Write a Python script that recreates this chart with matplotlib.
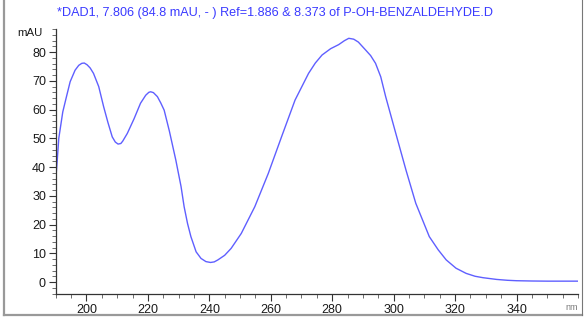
import numpy as np
import matplotlib
matplotlib.use("Agg")
import matplotlib.pyplot as plt
from matplotlib.ticker import MultipleLocator
from matplotlib.lines import Line2D

plt.rcParams["font.family"] = ["Liberation Sans", "DejaVu Sans"]

# wavelength (nm) and absorbance (mAU)
wl = [190, 190.5, 191, 192.3, 193.5, 194.7, 196.3, 197.5, 198.5, 199.3, 200.2,
      201.2, 202.3, 204, 205.6, 207, 208.4, 209.4, 210.3, 211.2, 211.8, 213.3,
      215.5, 217.6, 219.3, 220.3, 220.9, 221.8, 223.1, 224.2, 225.3, 227,
      229.1, 230.8, 231.8, 232.9, 234, 235.7, 237.3, 238.9, 240.4, 241.6,
      242.8, 245, 247.1, 250.4, 254.8, 259.2, 263.5, 267.9, 272.3, 274.5,
      276.7, 279.5, 282.1, 284, 285.4, 287, 288.5, 290.9, 292.5, 294.1,
      295.8, 297.4, 300.7, 304, 307.2, 311.6, 314.5, 317.1, 320.3, 323.6,
      326.5, 329.1, 333.5, 337, 340, 345, 350, 360]
mau = [35.5, 42.4, 50, 59.2, 64.5, 69.7, 73.7, 75.4, 76.1, 76.2, 75.6,
       74.5, 72.6, 68, 61, 55.5, 50.5, 48.7, 48, 48.2, 49, 51.7,
       56.8, 62.2, 65, 66, 66.2, 65.9, 64.5, 62.3, 59.8, 52.5,
       42.4, 33.2, 26.2, 20.4, 15.8, 10.5, 8.2, 7.1, 6.8, 7.0,
       7.7, 9.3, 11.7, 16.9, 26.2, 37.8, 50.5, 63.3, 72.6, 76.2,
       79, 81.2, 82.6, 84, 84.8, 84.5, 83.5, 80.7, 78.8, 76.1,
       71.4, 64.5, 51.7, 39, 27.4, 15.8, 11.2, 7.7, 4.8, 3.0,
       2.0, 1.5, 0.9, 0.6, 0.45, 0.35, 0.3, 0.3]

fig = plt.figure(figsize=(5.84, 3.20), dpi=100)
ax = fig.add_axes([0.0954, 0.081, 0.8943, 0.828])
ax.plot(wl, mau, color="#5f5fff", lw=1.0)

ax.set_xlim(190, 360)
ax.set_ylim(-4.2, 88)
ax.xaxis.set_minor_locator(MultipleLocator(5))
ax.yaxis.set_minor_locator(MultipleLocator(2))
ax.set_xticks(np.arange(200, 341, 20))
ax.set_yticks(np.arange(0, 81, 10))
for s in ["top", "right"]:
    ax.spines[s].set_visible(False)
for s in ["left", "bottom"]:
    ax.spines[s].set_color("#333333")
    ax.spines[s].set_linewidth(0.9)
ax.tick_params(which="major", length=5, width=0.8, color="#333333",
               labelsize=9, labelcolor="#1a1a1a", pad=2)
ax.tick_params(which="minor", length=3, width=0.6, color="#555555")

fig.text(57 / 584, 1 - 13 / 320,
         "*DAD1, 7.806 (84.8 mAU, - ) Ref=1.886 & 8.373 of P-OH-BENZALDEHYDE.D",
         color="#3a3aff", fontsize=9.1, va="center", ha="left")
fig.text(43 / 584, 1 - 33 / 320, "mAU", fontsize=8.2, color="#1a1a1a",
         ha="right", va="center")
fig.text(578 / 584, 1 - 308 / 320, "nm", fontsize=6.5, color="#777777",
         ha="right", va="center")

# window border
fig.add_artist(Line2D([4 / 584, 4 / 584], [1 - 315 / 320, 1], transform=fig.transFigure,
                      color="#999999", lw=1.6))
fig.add_artist(Line2D([4 / 584, 582 / 584], [1 - 315 / 320, 1 - 315 / 320],
                      transform=fig.transFigure, color="#999999", lw=1.6))
fig.add_artist(Line2D([582 / 584, 582 / 584], [1 - 315 / 320, 1], transform=fig.transFigure,
                      color="#777777", lw=0.8))

fig.savefig("out.png", dpi=100)
